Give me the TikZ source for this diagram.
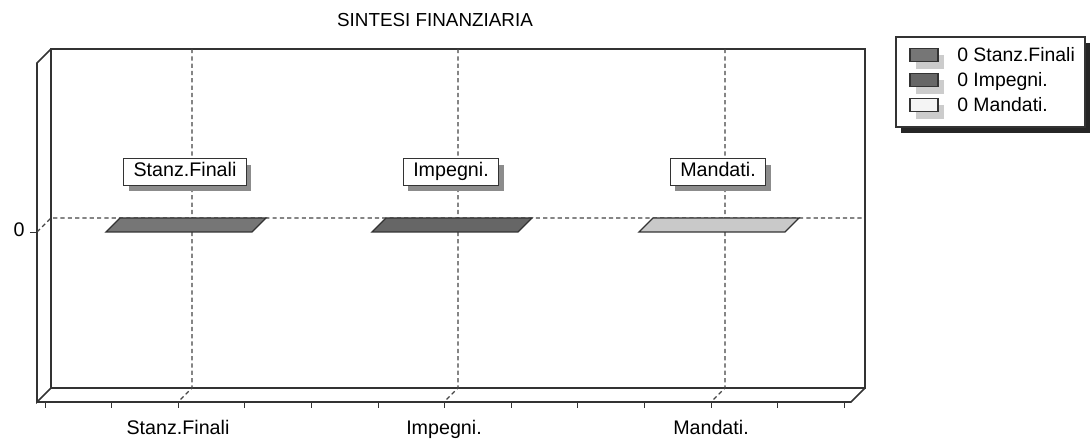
\documentclass[tikz,border=0pt]{standalone}
\usepackage{fontspec}
\setmainfont{Liberation Sans}
\usetikzlibrary{shadows}
\definecolor{framegray}{HTML}{333333}
\definecolor{gridgray}{HTML}{444444}
\definecolor{barstanz}{HTML}{767676}
\definecolor{barimp}{HTML}{666666}
\definecolor{barmand}{HTML}{C9C9C9}
\definecolor{swmand}{HTML}{F4F4F4}
\begin{document}
\begin{tikzpicture}[x=0.025cm,y=-0.025cm,
    frame/.style={draw=framegray,line width=1.1pt},
    gridline/.style={draw=gridgray,line width=.9pt,dash pattern=on 3pt off 2.2pt},
    labelbox/.style={draw=framegray,fill=white,line width=.9pt,inner xsep=7pt,inner ysep=3pt,
      text height=10pt,text depth=3pt,font=\fontsize{14}{16}\selectfont,
      drop shadow={shadow xshift=3.6pt,shadow yshift=-4.3pt,fill=black!45,opacity=1}},
    axislabel/.style={anchor=base,inner sep=0pt,font=\fontsize{14}{16}\selectfont},
    swatch/.style={draw=framegray,line width=.8pt,minimum width=19.9pt,minimum height=9.5pt,inner sep=0pt,
      drop shadow={shadow xshift=4.3pt,shadow yshift=-5pt,fill=black!20,opacity=1}},
    legtext/.style={anchor=base west,inner sep=0pt,font=\fontsize{13.8}{16}\selectfont}]
  \useasboundingbox (0,0) rectangle (1090,444);
  \node[axislabel,font=\fontsize{13.4}{16}\selectfont] (title) at (435,27) {SINTESI FINANZIARIA};
  % box of the chart
  \coordinate (btl) at (51,49); \coordinate (btr) at (865,49);
  \coordinate (bbr) at (865,388); \coordinate (bbl) at (51,388);
  \coordinate (ftl) at (37,63); \coordinate (fbl) at (37,402); \coordinate (fbr) at (851,402);
  \draw[frame] (btl) -- (btr) -- (bbr) -- (bbl) -- cycle;
  \draw[frame] (btl) -- (ftl) -- (fbl) -- (bbl);
  \draw[frame] (fbl) -- (fbr) -- (bbr);
  \foreach \k in {0,...,12}
    \draw[framegray,line width=.6pt] ({45+66.6*\k},402) -- ++(0,6);
  % zero level
  \coordinate (zf) at (37,232); \coordinate (zb) at (51,218); \coordinate (ze) at (865,218);
  \draw[gridline] (zf) -- (zb) -- (ze);
  \draw[framegray,line width=.7pt] (zf) -- ++(-7,0);
  \node[axislabel] (zero) at (19,237) {0};
  % categories
  \foreach \c/\name/\col [count=\i] in {178/Stanz.Finali/barstanz,444/Impegni./barimp,711/Mandati./barmand} {
    \coordinate (gt\i) at (\c+14,49); \coordinate (gb\i) at (\c+14,388); \coordinate (gf\i) at (\c,402);
    \draw[gridline] (gt\i) -- (gb\i) -- (gf\i);
    \filldraw[draw=framegray,line width=.9pt,fill=\col] (\c-72,232) -- (\c+74,232) -- (\c+88,218) -- (\c-58,218) -- cycle;
    \node[labelbox] (box\i) at (\c+7,172) {\name};
    \node[axislabel] (cat\i) at (\c,435) {\name};
  }
  % legend
  \node[draw=framegray,line width=1pt,fill=white,minimum width=134.4pt,minimum height=64pt,inner sep=0pt,
    drop shadow={shadow xshift=3.6pt,shadow yshift=-4.3pt,fill=black!85,opacity=1}] (legend) at (990.5,82) {};
  \foreach \col/\name [count=\i] in {barstanz/Stanz.Finali,barimp/Impegni.,swmand/Mandati.} {
    \node[swatch,fill=\col] (sw\i) at (924,{30+25*\i}) {};
    \node[legtext] (lt\i) at (957,{37+25*\i}) {0 \name};
  }
\end{tikzpicture}
\end{document}
